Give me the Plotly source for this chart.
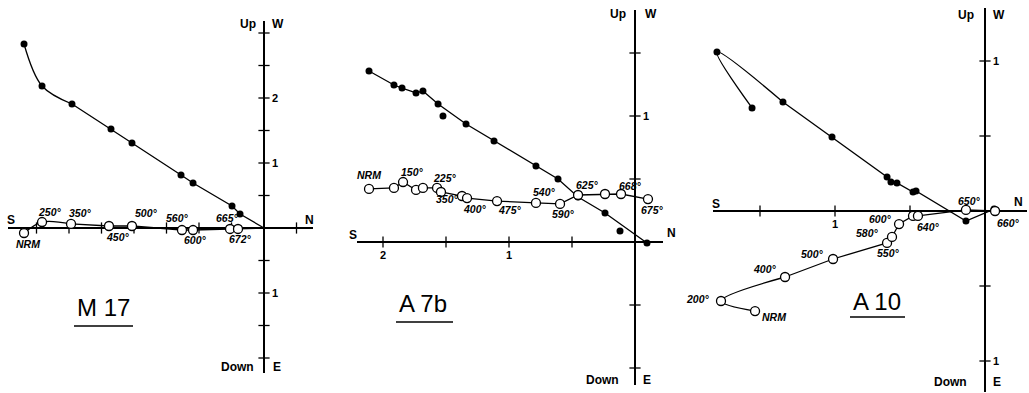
import plotly.graph_objects as go

# ---------------- data (units of magnetization, as on the axes) ----------------
# M 17
m17_closed_x = [-3.692, -3.415, -2.954, -2.354, -2.031, -1.277, -1.092, -0.492, -0.369]
m17_closed_y = [2.831, 2.185, 1.908, 1.523, 1.308, 0.815, 0.692, 0.338, 0.215]
m17_open_x = [-3.692, -3.415, -2.969, -2.385, -2.031, -1.262, -1.092, -0.523, -0.400]
m17_open_y = [-0.077, 0.092, 0.062, 0.031, 0.031, -0.031, -0.031, -0.015, -0.015]
m17_labels = ["NRM", "250°", "350°", "450°", "500°", "560°", "600°", "665°", "672°"]

# A 7b
a7b_closed_x = [-2.111, -1.913, -1.849, -1.738, -1.683, -1.563, -1.524, -1.341, -1.119,
                -0.786, -0.611, -0.452, -0.238, -0.119, 0.095]
a7b_closed_y = [1.357, 1.246, 1.222, 1.183, 1.198, 1.095, 1.000, 0.937, 0.802,
                0.603, 0.500, 0.357, 0.230, 0.087, -0.008]
a7b_on_line = [True, True, True, True, True, True, False, True, True,
               True, True, True, True, False, True]
a7b_open_x = [-2.111, -1.913, -1.841, -1.738, -1.683, -1.571, -1.540, -1.373, -1.333,
              -1.095, -0.786, -0.595, -0.452, -0.238, -0.111, 0.103]
a7b_open_y = [0.421, 0.429, 0.476, 0.413, 0.429, 0.429, 0.397, 0.365, 0.349,
              0.325, 0.310, 0.302, 0.373, 0.381, 0.381, 0.341]
a7b_labels = ["NRM", "", "150°", "", "", "225°", "", "350°", "400°",
              "475°", "540°", "590°", "625°", "", "668°", "675°"]

# A 10
a10_closed_x = [-1.553, -1.787, -1.347, -1.020, -0.653, -0.627, -0.587, -0.480, -0.460, -0.127, 0.060]
a10_closed_y = [0.687, 1.060, 0.727, 0.493, 0.227, 0.193, 0.187, 0.127, 0.133, -0.067, 0.013]
a10_open_x = [-1.533, -1.760, -1.333, -1.013, -0.653, -0.620, -0.573, -0.480, -0.447, -0.127, 0.067]
a10_open_y = [-0.667, -0.600, -0.440, -0.320, -0.213, -0.173, -0.087, -0.033, -0.033, 0.007, 0.000]
a10_labels = ["NRM", "200°", "400°", "500°", "550°", "580°", "600°", "", "640°", "650°", "660°"]

# axis ticks and tick labels
m17_vticks = [-2, -1.5, -1, -0.5, 0.5, 1, 1.5, 2, 2.5, 3]
m17_hticks = [-3.5, -3, -2.5, -2, -1.5, -1, -0.5, 0.5]
m17_vlab_vals = [2, 1, -1]
m17_vlab_text = ["2", "1", "1"]

a7b_vticks = [-1, -0.5, 0.5, 1, 1.5]
a7b_hticks = [-2, -1.5, -1, -0.5]
a7b_vlab_vals = [1]
a7b_vlab_text = ["1"]
a7b_hlab_vals = [-2, -1]
a7b_hlab_text = ["2", "1"]

a10_vticks = [-1, -0.5, 0.5, 1]
a10_hticks = [-1.5, -1, -0.5]
a10_vlab_vals = [1, -1]
a10_vlab_text = ["1", "1"]
a10_hlab_vals = [-1]
a10_hlab_text = ["1"]

specimens = ["M 17", "A 7b", "A 10"]

# ---------------- layout helpers (pixel geometry) ----------------
W, H = 1029, 393
def fx(px):
    return px / W
def fy(py):
    return 1 - py / H

FONT = "Liberation Sans"
LW = 1.3

fig = go.Figure()

def add_panel(k, closed_x, closed_y, open_x, open_y, labels, offsets,
              vticks, hticks, vlab_vals, vlab_text, hlab_vals, hlab_text,
              closed_spline_n=0, open_spline_n=0, closed_mask=None, closed_to_origin=False,
              open_to_origin=False):
    xa = "x" if k == 1 else f"x{k}"
    ya = "y" if k == 1 else f"y{k}"
    # closed line
    if closed_mask is not None:
        lx = [v for v, m in zip(closed_x, closed_mask) if m]
        ly = [v for v, m in zip(closed_y, closed_mask) if m]
    else:
        lx, ly = list(closed_x), list(closed_y)
    if closed_to_origin:
        lx = lx + [0]
        ly = ly + [0]
    if closed_spline_n:
        fig.add_trace(go.Scatter(x=lx[:closed_spline_n], y=ly[:closed_spline_n], mode="lines",
                                 line=dict(color="black", width=LW, shape="spline", smoothing=1.0),
                                 xaxis=xa, yaxis=ya, hoverinfo="skip"))
        lx2, ly2 = lx[closed_spline_n - 1:], ly[closed_spline_n - 1:]
    else:
        lx2, ly2 = lx, ly
    fig.add_trace(go.Scatter(x=lx2, y=ly2, mode="lines", line=dict(color="black", width=LW),
                             xaxis=xa, yaxis=ya, hoverinfo="skip"))
    # open line
    ox, oy = list(open_x), list(open_y)
    if open_to_origin:
        ox = ox + [0]
        oy = oy + [0]
    if open_spline_n:
        fig.add_trace(go.Scatter(x=ox[:open_spline_n], y=oy[:open_spline_n], mode="lines",
                                 line=dict(color="black", width=LW, shape="spline", smoothing=1.0),
                                 xaxis=xa, yaxis=ya, hoverinfo="skip"))
        ox2, oy2 = ox[open_spline_n - 1:], oy[open_spline_n - 1:]
    else:
        ox2, oy2 = ox, oy
    fig.add_trace(go.Scatter(x=ox2, y=oy2, mode="lines", line=dict(color="black", width=LW),
                             xaxis=xa, yaxis=ya, hoverinfo="skip"))
    # ticks
    fig.add_trace(go.Scatter(x=[0] * len(vticks), y=vticks, mode="markers",
                             marker=dict(symbol="line-ew", size=8, line=dict(color="black", width=1.3)),
                             xaxis=xa, yaxis=ya, hoverinfo="skip", cliponaxis=False))
    fig.add_trace(go.Scatter(x=hticks, y=[0] * len(hticks), mode="markers",
                             marker=dict(symbol="line-ns", size=8, line=dict(color="black", width=1.3)),
                             xaxis=xa, yaxis=ya, hoverinfo="skip", cliponaxis=False))
    # markers
    fig.add_trace(go.Scatter(x=closed_x, y=closed_y, mode="markers",
                             marker=dict(size=7, color="black"),
                             xaxis=xa, yaxis=ya, hoverinfo="skip", cliponaxis=False))
    fig.add_trace(go.Scatter(x=open_x, y=open_y, mode="markers",
                             marker=dict(size=9, color="white", line=dict(color="black", width=1.3)),
                             xaxis=xa, yaxis=ya, hoverinfo="skip", cliponaxis=False))
    # tick labels
    for v, t in zip(vlab_vals, vlab_text):
        fig.add_annotation(x=0, y=v, xref=xa, yref=ya, text=t, showarrow=False,
                           xanchor="left", xshift=6, font=dict(family=FONT, size=11, color="black", weight="bold"))
    for v, t in zip(hlab_vals, hlab_text):
        fig.add_annotation(x=v, y=0, xref=xa, yref=ya, text=t, showarrow=False,
                           yanchor="top", yshift=-5, font=dict(family=FONT, size=11, color="black", weight="bold"))
    # temperature labels
    for x, y, t, (dx, dy) in zip(open_x, open_y, labels, offsets):
        if not t:
            continue
        fig.add_annotation(x=x, y=y, xref=xa, yref=ya, text=t, showarrow=False,
                           xshift=dx, yshift=-dy,
                           font=dict(family=FONT, size=10.5, color="black", weight="bold", style="italic"))

m17_off = [(4, 11), (8, -10), (9, -11), (9, 11), (15, -13), (-4, -12), (2, 10), (-3, -11), (2, 10)]
a7b_off = [(0, -14), (0, 0), (9, -10), (0, 0), (0, 0), (8, -10), (0, 0), (-15, 3), (8, 11),
           (13, 9), (9, -11), (3, 10), (9, -10), (0, 0), (9, -8), (5, 11)]
a10_off = [(19, 6), (-23, -2), (-20, -8), (-21, -5), (1, 10), (-25, -4), (-19, -5), (0, 0),
           (11, 11), (4, -9), (13, 12)]

add_panel(1, m17_closed_x, m17_closed_y, m17_open_x, m17_open_y, m17_labels, m17_off,
          m17_vticks, m17_hticks, m17_vlab_vals, m17_vlab_text, [], [],
          closed_spline_n=3, open_spline_n=3, closed_to_origin=True, open_to_origin=True)
add_panel(2, a7b_closed_x, a7b_closed_y, a7b_open_x, a7b_open_y, a7b_labels, a7b_off,
          a7b_vticks, a7b_hticks, a7b_vlab_vals, a7b_vlab_text, a7b_hlab_vals, a7b_hlab_text,
          closed_mask=a7b_on_line)
add_panel(3, a10_closed_x, a10_closed_y, a10_open_x, a10_open_y, a10_labels, a10_off,
          a10_vticks, a10_hticks, a10_vlab_vals, a10_vlab_text, a10_hlab_vals, a10_hlab_text,
          closed_spline_n=3, open_spline_n=3)

# panel geometry: origin pixel, px per unit, axis pixel extents
panels = [
    dict(ox=264, oy=228, s=65, x0=8, x1=313, y0=21, y1=373),
    dict(ox=635, oy=242, s=126, x0=357, x1=663, y0=10, y1=385),
    dict(ox=985, oy=211, s=150, x0=713, x1=1027, y0=8, y1=392),
]
for i, p in enumerate(panels, start=1):
    xr = [(p["x0"] - p["ox"]) / p["s"], (p["x1"] - p["ox"]) / p["s"]]
    yr = [(p["oy"] - p["y1"]) / p["s"], (p["oy"] - p["y0"]) / p["s"]]
    ax = dict(showgrid=False, zeroline=True, zerolinecolor="black", zerolinewidth=1.5,
              showticklabels=False, ticks="", showline=False, fixedrange=True)
    xk = "xaxis" if i == 1 else f"xaxis{i}"
    yk = "yaxis" if i == 1 else f"yaxis{i}"
    fig.update_layout({
        xk: dict(ax, domain=[fx(p["x0"]), fx(p["x1"])], range=xr,
                 anchor="y" if i == 1 else f"y{i}"),
        yk: dict(ax, domain=[fy(p["y1"]), fy(p["y0"])], range=yr,
                 anchor="x" if i == 1 else f"x{i}"),
    })

def pa(xpx, ypx, text, size=12, xanchor="center", weight="bold", family=FONT):
    fig.add_annotation(x=fx(xpx), y=fy(ypx), xref="paper", yref="paper", text=text,
                       showarrow=False, xanchor=xanchor, yanchor="middle",
                       font=dict(family=family, size=size, color="black", weight=weight))

# axis direction labels
for (upx, wx, ty, dnx, ex, by, sx, sy, nx, ny) in [
    (258, 270, 24, 256, 271, 367, 11, 220, 309, 220),
    (628, 643, 14, 621, 641, 380, 353, 235, 671, 233),
    (976, 991, 15, 969, 991, 382, 716, 204, 1018, 202),
]:
    pa(upx, ty, "Up", xanchor="right")
    pa(wx, ty, "W", xanchor="left")
    pa(dnx, by, "Down", xanchor="right")
    pa(ex, by, "E", xanchor="left")
    pa(sx, sy, "S")
    pa(nx, ny, "N")

# specimen names with underline
for name, cx, cy, ux0, ux1, uy in [
    (specimens[0], 103, 307, 74, 133, 326),
    (specimens[1], 423, 303, 396, 453, 322),
    (specimens[2], 877, 301, 850, 905, 317),
]:
    pa(cx, cy, name, size=24, weight="normal")
    fig.add_shape(type="line", xref="paper", yref="paper", x0=fx(ux0), x1=fx(ux1),
                  y0=fy(uy), y1=fy(uy), line=dict(color="black", width=1.5))

fig.update_layout(width=W, height=H, margin=dict(l=0, r=0, t=0, b=0),
                  paper_bgcolor="white", plot_bgcolor="white", showlegend=False)

fig.write_html("out.html", config={"displayModeBar": False, "staticPlot": True},
               post_script="document.body.style.margin='0';document.body.style.overflow='hidden';")
